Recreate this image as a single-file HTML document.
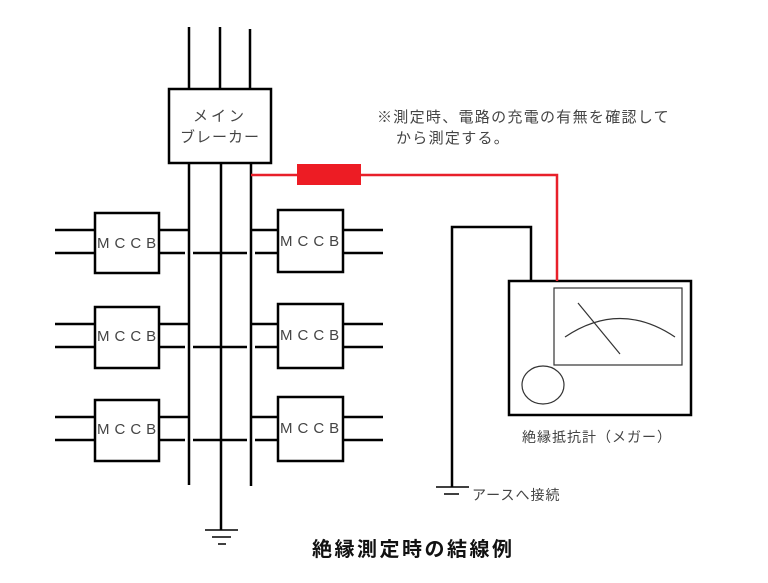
<!DOCTYPE html>
<html><head><meta charset="utf-8"><style>
html,body{margin:0;padding:0;background:#fff;}
svg{display:block;}
text{font-family:"Liberation Sans","Noto Sans CJK JP",sans-serif;}
</style></head><body>
<svg width="768" height="583" viewBox="0 0 768 583" xmlns="http://www.w3.org/2000/svg">
<g stroke="#000" stroke-width="2.5" fill="none">
<line x1="189" y1="27" x2="189" y2="89"/>
<line x1="220" y1="27" x2="220" y2="89"/>
<line x1="250" y1="29" x2="250" y2="89"/>
<rect x="169" y="89" width="102" height="74" fill="#fff"/>
<line x1="189" y1="163" x2="189" y2="485"/>
<line x1="221" y1="163" x2="221" y2="530"/>
<line x1="251" y1="163" x2="251" y2="486"/>
<line x1="205" y1="530" x2="238" y2="530" stroke-width="1.5"/>
<line x1="212" y1="537" x2="231" y2="537" stroke-width="1.5"/>
<line x1="218" y1="544" x2="226" y2="544" stroke-width="1.5"/>
<rect x="95" y="213" width="64" height="60"/>
<rect x="95" y="307" width="64" height="61"/>
<rect x="95" y="400" width="64" height="61"/>
<rect x="278" y="210" width="65" height="62"/>
<rect x="278" y="304" width="65" height="64"/>
<rect x="278" y="397" width="65" height="64"/>
<path d="M55 230H95M159 230H189M55 253H95M159 253H185M193 253H247M255 253H278M251 230H278M343 230H383M343 253H383"/>
<path d="M55 324H95M159 324H189M55 347H95M159 347H185M193 347H247M255 347H278M251 324H278M343 324H383M343 347H383"/>
<path d="M55 417H95M159 417H189M55 440H95M159 440H185M193 440H247M255 440H278M251 417H278M343 417H383M343 440H383"/>
<rect x="509" y="281" width="182" height="134"/>
<path d="M531 281V227H452V487"/>
<line x1="436" y1="487" x2="469" y2="487" stroke-width="1.5"/>
<line x1="444" y1="494" x2="459" y2="494" stroke-width="1.5"/>
</g>
<g stroke="#333" stroke-width="1.2" fill="none">
<rect x="554" y="288" width="128" height="77"/>
<line x1="578" y1="303" x2="620" y2="354"/>
<path d="M565 337Q620 300 675 337"/>
<ellipse cx="543" cy="385" rx="21" ry="19"/>
</g>
<path d="M251 175H297M361 175H557V281" stroke="#e8202a" stroke-width="2.5" fill="none"/>
<rect x="297" y="164" width="64" height="21" fill="#ed1c24"/>
<g fill="#444">
<text x="220" y="121" font-size="15" text-anchor="middle" letter-spacing="3">メイン</text>
<text x="220" y="142" font-size="15" text-anchor="middle" letter-spacing="1">ブレーカー</text>
<g font-size="15" letter-spacing="5">
<text x="97" y="248">MCCB</text><text x="97" y="341">MCCB</text><text x="97" y="434">MCCB</text>
<text x="280" y="246">MCCB</text><text x="280" y="340">MCCB</text><text x="280" y="433">MCCB</text>
</g>
<text x="377" y="122" font-size="15" letter-spacing="1.3">※測定時、電路の充電の有無を確認して</text>
<text x="396" y="143" font-size="15" letter-spacing="1.3">から測定する。</text>
<text x="522" y="442" font-size="14" letter-spacing="1">絶縁抵抗計（メガー）</text>
<text x="472" y="500" font-size="14" letter-spacing="1">アースへ接続</text>
</g>
<text x="312" y="556" font-size="20" letter-spacing="2.5" fill="#111" font-weight="bold">絶縁測定時の結線例</text>
</svg>
</body></html>
